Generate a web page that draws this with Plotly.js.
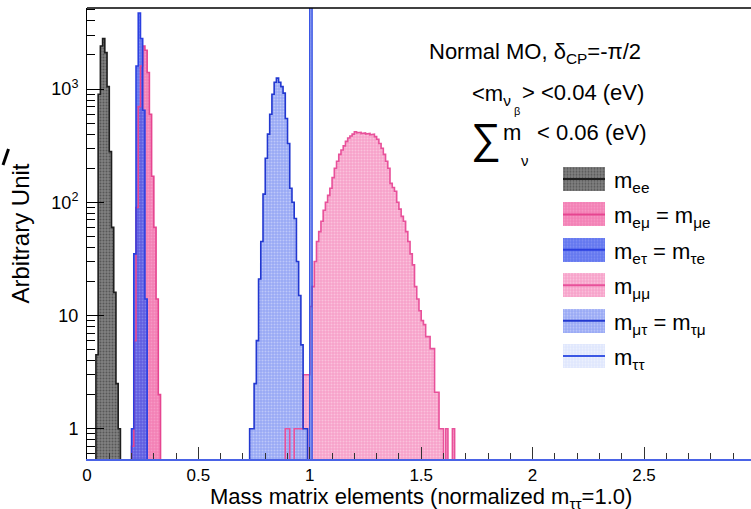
<!DOCTYPE html>
<html><head><meta charset="utf-8">
<script src="https://cdn.plot.ly/plotly-3.0.1.min.js"></script>
<style>html,body{margin:0;padding:0;background:#fff}</style>
</head><body><div id="chart" style="width:751px;height:509px"></div>
<script>
// ---- data (bin width 0.01, values per bin starting at given left edge) ----
const binWidth = 0.01;
const meeStart = 0.04;
const meeValues = [4.5, 900, 2400, 2800, 2100, 1050, 280, 60, 16, 2.5, 1];
const memuStart = 0.20;
const memuValues = [0.7, 6, 90, 700, 1600, 2400, 2200, 1400, 600, 170, 60, 14, 2];
const metauStart = 0.20;
const metauValues = [1, 35, 1600, 4700, 2800, 650, 14];
const mmumuStart = 0.89;
const mmumuValues = [1, 1, 0, 0, 1, 1, 1, 1, 3, 3, 3,
  12, 18, 30, 45, 55, 68, 85, 100, 115, 133, 165, 200, 230, 265, 290, 315, 345, 370, 385, 400,
  420, 410, 415, 405, 410, 400, 405, 395, 400, 380, 360, 330, 300, 265, 230, 200, 147, 135, 125, 100,
  87, 75, 68, 55, 45, 35, 28, 18, 14, 11, 9, 8.3, 6.5, 6.5, 5.1, 5.1, 2.1, 2.1, 1, 1, 0, 1, 0, 0, 1];
const mmutauStart = 0.73;
const mmutauValues = [1, 1, 2.5, 6, 21, 45, 118, 245, 400, 600, 900, 1150, 1250, 1150, 1050, 920,
  550, 330, 133, 100, 72, 30, 15, 5.5, 1, 1];
const mtautauStart = 1.00;
const mtautauValues = [20000];

const legendLabels = [
  'm<sub>ee</sub>',
  'm<sub>eμ</sub> = m<sub>μe</sub>',
  'm<sub>eτ</sub> = m<sub>τe</sub>',
  'm<sub>μμ</sub>',
  'm<sub>μτ</sub> = m<sub>τμ</sub>',
  'm<sub>ττ</sub>'
];
const xTickVals = [0, 0.5, 1, 1.5, 2, 2.5];
const xTickText = ['0', '0.5', '1', '1.5', '2', '2.5'];
const yTickVals = [1, 10, 100, 1000];
const yTickText = ['1', '10', '10<sup>2</sup>', '10<sup>3</sup>'];

// ---- styles ----
const styles = [
  {bg: 'rgba(118,118,118,0.92)', fg: 'rgba(35,35,35,0.9)', line: '#1e1e1e', size: 3, sol: 0.35},
  {bg: 'rgba(240,100,165,0.82)', fg: 'rgba(255,200,225,0.7)', line: '#e64590', size: 3, sol: 0.3},
  {bg: 'rgba(60,85,235,0.8)', fg: 'rgba(190,200,255,0.6)', line: '#2a3fe0', size: 3, sol: 0.3},
  {bg: 'rgba(245,155,198,0.95)', fg: 'rgba(255,235,245,0.9)', line: '#e8519a', size: 3, sol: 0.35},
  {bg: 'rgba(145,162,243,0.95)', fg: 'rgba(235,240,255,0.9)', line: '#2238d0', size: 3, sol: 0.35},
  {bg: 'rgba(220,228,252,0.95)', fg: 'rgba(255,255,255,0.9)', line: '#3a56e4', size: 3, sol: 0.35}
];
const series = [
  [meeStart, meeValues], [memuStart, memuValues], [metauStart, metauValues],
  [mmumuStart, mmumuValues], [mmutauStart, mmutauValues], [mtautauStart, mtautauValues]
];
const FLOOR = 1e-3;
const r4 = v => Math.round(v * 10000) / 10000;

const barTraces = [], lineTraces = [];
series.forEach(([start, vals], i) => {
  const st = styles[i];
  const cx = vals.map((v, k) => r4(start + (k + 0.5) * binWidth));
  const cy = vals.map(v => v > 0 ? v : null);
  barTraces.push({
    type: 'bar', x: cx, y: cy, width: binWidth, showlegend: false, hoverinfo: 'skip',
    marker: {color: st.bg, line: {width: 0},
      pattern: {shape: '.', bgcolor: st.bg, fgcolor: st.fg, size: st.size, solidity: st.sol, fillmode: 'overlay'}}
  });
  const xs = [r4(start)], ys = [FLOOR];
  vals.forEach((v, k) => {
    const l = r4(start + k * binWidth), r = r4(start + (k + 1) * binWidth);
    const y = v > 0 ? v : FLOOR;
    xs.push(l, r); ys.push(y, y);
  });
  xs.push(r4(start + vals.length * binWidth)); ys.push(FLOOR);
  lineTraces.push({type: 'scatter', mode: 'lines', x: xs, y: ys, showlegend: false, hoverinfo: 'skip',
    line: {color: st.line, width: 1.6}});
});

// legend swatches on an auxiliary axis pair
const legendTraces = [];
legendLabels.forEach((lab, k) => {
  const st = styles[k];
  legendTraces.push({type: 'bar', orientation: 'h', x: [1], y: [k], base: 0, width: 0.68,
    xaxis: 'x2', yaxis: 'y2', showlegend: false, hoverinfo: 'skip',
    marker: {color: st.bg, line: {width: 0},
      pattern: {shape: '.', bgcolor: st.bg, fgcolor: st.fg, size: st.size, solidity: st.sol, fillmode: 'overlay'}}});
  legendTraces.push({type: 'scatter', mode: 'lines', x: [0, 1], y: [k, k], xaxis: 'x2', yaxis: 'y2',
    showlegend: false, hoverinfo: 'skip', line: {color: st.line, width: 2}});
});

// minor log ticks
const minorY = [];
for (let d = -1; d <= 3; d++) for (let m = 2; m <= 9; m++) minorY.push(r4(m * Math.pow(10, d)));

const L = 87, T = 8, W = 751, H = 509, B = 50;
const pw = W - L, ph = H - T - B;
const fx = px => (px - L) / pw;
const fy = py => (H - B - py) / ph;
const FONT = 'Liberation Sans, Arial, Helvetica, sans-serif';

const ann = [];
function addText(text, px, py, size, xanchor, extra) {
  ann.push(Object.assign({text, xref: 'paper', yref: 'paper', x: fx(px), y: fy(py), showarrow: false,
    xanchor: xanchor || 'left', yanchor: 'middle', font: {family: FONT, size, color: '#000'}}, extra || {}));
}
addText('Normal MO, δ<sub>CP</sub>=-π/2', 427, 53, 22);
addText('&lt;m<sub>ν</sub>', 470, 95, 22);
addText('β', 517, 111, 11, 'center');
addText('&gt; &lt;0.04 (eV)', 520, 92, 22);
addText('∑', 486, 139, 42, 'center');
addText('m', 501, 132, 22);
addText('ν', 525, 160, 15, 'center');
addText('&lt; 0.06 (eV)', 535, 132, 22);
const legendY = [179, 214, 249.5, 285, 320.5, 356];
legendLabels.forEach((lab, k) => addText(lab, 612, legendY[k] + 3, 22));
addText('3', 755.4, 474, 17, 'center');
addText('Mass matrix elements (normalized m<sub>ττ</sub>=1.0)', 421, 498, 22, 'center', {borderpad: 0});

const layout = {
  width: W, height: H, margin: {l: L, r: 0, t: T, b: B},
  paper_bgcolor: '#fff', plot_bgcolor: '#fff',
  barmode: 'overlay', bargap: 0, showlegend: false,
  font: {family: FONT, color: '#000'},
  xaxis: {range: [0, pw / 222.8], showgrid: false, zeroline: false,
    showline: true, linecolor: '#4a63e6', linewidth: 2,
    tickmode: 'array', tickvals: xTickVals, ticktext: xTickText,
    ticks: 'inside', ticklen: 12, tickcolor: '#333', tickwidth: 1,
    minor: {ticks: 'inside', ticklen: 6, dtick: 0.1, tick0: 0, tickcolor: '#333', tickwidth: 1, showgrid: false},
    tickfont: {family: FONT, size: 17}, ticklabelstandoff: 0},
  yaxis: {type: 'log', range: [Math.log10(0.54), Math.log10(5200)], showgrid: false, zeroline: false,
    showline: true, linecolor: '#000', linewidth: 1,
    tickmode: 'array', tickvals: yTickVals, ticktext: yTickText,
    ticks: 'inside', ticklen: 17, tickcolor: '#000', tickwidth: 1,
    minor: {ticks: 'inside', ticklen: 8, tickmode: 'array', tickvals: minorY, tickcolor: '#000', tickwidth: 1, showgrid: false},
    tickfont: {family: FONT, size: 18}, ticklabelstandoff: 4,
    title: {text: 'Arbitrary Unit', font: {family: FONT, size: 24}, standoff: 14}},
  xaxis2: {domain: [fx(563), fx(605)], range: [0, 1], anchor: 'y2', visible: false, fixedrange: true},
  yaxis2: {domain: [fy(356 + 17.75), fy(179 - 17.75)], range: [5.5, -0.5], anchor: 'x2', visible: false, fixedrange: true},
  annotations: ann,
  shapes: [
    {type: 'line', xref: 'paper', yref: 'paper', x0: 0, x1: 1, y0: 1, y1: 1, line: {color: '#000', width: 1.5}},
    {type: 'line', xref: 'paper', yref: 'paper', x0: fx(3), y0: fy(165), x1: fx(8.5), y1: fy(149), line: {color: '#000', width: 3}}
  ]
};

Plotly.newPlot('chart', barTraces.concat(lineTraces, legendTraces), layout, {displayModeBar: false, staticPlot: true});
</script></body></html>
